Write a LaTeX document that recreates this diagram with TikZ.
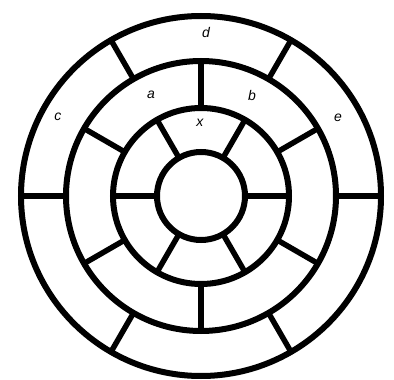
\documentclass[tikz,border=0pt]{standalone}
\usepackage{fontspec}
\setmainfont{Liberation Sans}
\begin{document}
\begin{tikzpicture}[
  x=1pt, y=1pt,
  ring/.style={line width=6pt},
  spoke/.style={line width=5.5pt},
  lab/.style={font=\fontsize{14}{16}\selectfont\itshape, inner sep=0pt}
]
\useasboundingbox (-201,-184) rectangle (193,196);
% ----- concentric circles -----
\foreach \rad in {44,88,135,180}{\draw[ring] (0,0) circle (\rad);}
% ----- dividers: inner and outer rings -----
\foreach \a in {0,60,...,300}{
  \draw[spoke] (\a:44) -- (\a:88);
  \draw[spoke] (\a:135) -- (\a:180);}
% ----- dividers: middle ring -----
\foreach \a in {30,90,...,330}{\draw[spoke] (\a:88) -- (\a:135);}
% ----- labels -----
\node[lab] (x) at (-1,73)   {x};
\node[lab] (a) at (-50,101) {a};
\node[lab] (b) at (51,101)  {b};
\node[lab] (c) at (-143,79) {c};
\node[lab] (d) at (5,163)   {d};
\node[lab] (e) at (137,78)  {e};
\end{tikzpicture}
\end{document}
